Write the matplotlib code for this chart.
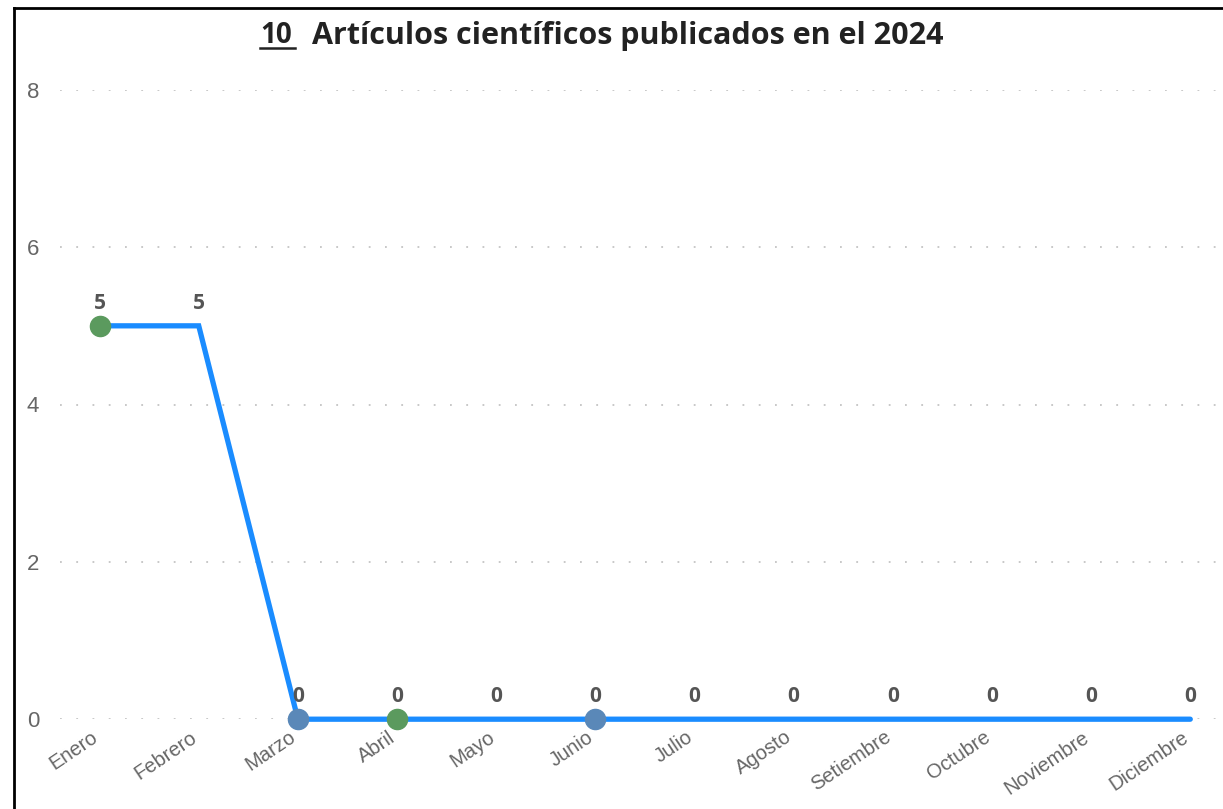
import numpy as np
import matplotlib.pyplot as plt
import matplotlib.transforms as mtransforms
from matplotlib.lines import Line2D

meses = ["Enero", "Febrero", "Marzo", "Abril", "Mayo", "Junio", "Julio",
         "Agosto", "Setiembre", "Octubre", "Noviembre", "Diciembre"]
articulos = [5, 5, 0, 0, 0, 0, 0, 0, 0, 0, 0, 0]
# meses con punto resaltado y su color
puntos_idx = [0, 2, 3, 5]
puntos_col = ["#5b9a5e", "#5a88b8", "#5b9a5e", "#5a88b8"]
total = 10
titulo = "Artículos científicos publicados en el 2024"

plt.rcParams['font.family'] = ['Liberation Sans', 'DejaVu Sans']

fig = plt.figure(figsize=(12.23, 8.09), dpi=100)
ax = fig.add_axes([0.049, 0.111, 0.951, 0.778])

x = np.arange(len(meses))
ax.plot(x, articulos, color="#1a8cff", lw=3.8, solid_joinstyle="miter",
        solid_capstyle="round", zorder=3, clip_on=False)
for i, c in zip(puntos_idx, puntos_col):
    ax.plot(x[i], articulos[i], "o", color=c, ms=14.5, zorder=4, clip_on=False)

for xi, v in zip(x, articulos):
    ax.text(xi, v + 0.15, str(v), ha="center", va="bottom", fontsize=15,
            fontweight="bold", color="#555555", family=["Open Sans", "DejaVu Sans"])

ax.set_xlim(-0.4, 11.33)
ax.set_ylim(0, 8)
ax.set_yticks([0, 2, 4, 6, 8])
ax.set_xticks(x)
ax.set_xticklabels(meses, rotation=34, ha="right", va="top",
                   rotation_mode="anchor", fontsize=14.5, color="#666666")
ax.tick_params(axis="x", length=0, pad=6)
ax.tick_params(axis="y", length=0, pad=15, labelsize=16, labelcolor="#666666")
desplazar = mtransforms.ScaledTranslation(-9 / 100, 0, fig.dpi_scale_trans)
for lbl in ax.get_xticklabels():
    lbl.set_transform(lbl.get_transform() + desplazar)
ax.grid(axis="y", color="#c4c4c4", linestyle=(0, (1, 8)), lw=1.3, zorder=0)
for s in ax.spines.values():
    s.set_visible(False)

# titulo con el total subrayado
fig.text(0.213, 0.956, str(total), fontsize=20, fontweight="bold", color="#222222",
         ha="left", va="center", family=["Open Sans", "DejaVu Sans"])
fig.text(0.255, 0.956, titulo, fontsize=22, fontweight="bold", color="#222222",
         ha="left", va="center", family=["Open Sans", "DejaVu Sans"])
fig.add_artist(Line2D([0.2125, 0.2415], [0.9405, 0.9405], color="#222222", lw=1.8))

# marco
fig.add_artist(Line2D([0.0115, 0.0115], [0, 0.99], color="black", lw=2))
fig.add_artist(Line2D([0.0115, 1.0], [0.99, 0.99], color="black", lw=2))

plt.savefig("out.png", dpi=100)
